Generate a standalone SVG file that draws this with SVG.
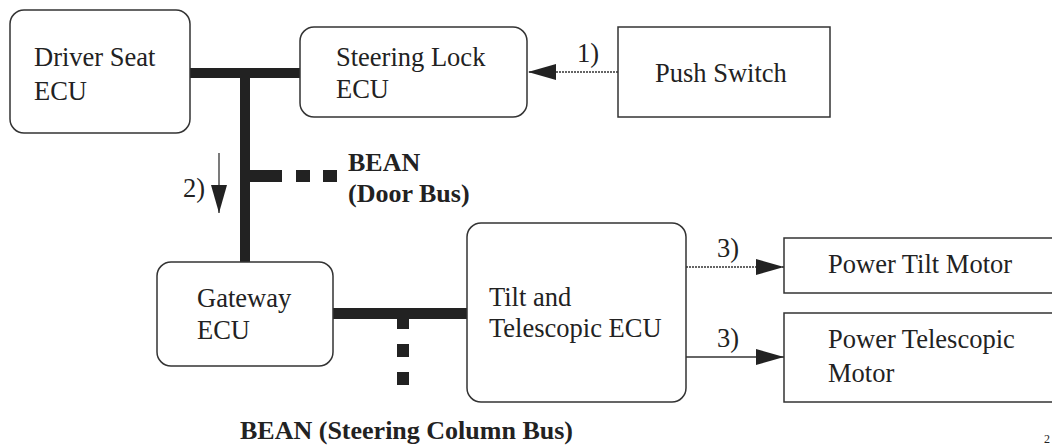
<svg xmlns="http://www.w3.org/2000/svg" width="1052" height="446" viewBox="0 0 1052 446">
<style>
.box{fill:#fff;stroke:#333;stroke-width:1.5}
.t{font-family:"Liberation Serif","Times New Roman",serif;font-size:26.5px;fill:#222}
.b{font-family:"Liberation Serif","Times New Roman",serif;font-size:26px;font-weight:bold;fill:#222}
.bus{fill:#222}
.ln{stroke:#333;stroke-width:1.3;fill:none}
.dot{stroke:#333;stroke-width:1.3;fill:none;stroke-dasharray:2 1}
</style>
<defs>
<marker id="ah" viewBox="0 0 28 16" refX="28" refY="8" markerWidth="28" markerHeight="16" markerUnits="userSpaceOnUse" orient="auto">
<path d="M0,0 L28,8 L0,16 Z" fill="#222"/>
</marker>
</defs>
<g id="connectors">
<rect class="bus" x="190" y="68" width="110" height="10"/>
<rect class="bus" x="240" y="68" width="10" height="194"/>
<rect class="bus" x="250" y="170" width="32" height="12"/>
<rect class="bus" x="296" y="170" width="14" height="12"/>
<rect class="bus" x="323" y="170" width="14" height="12"/>
<rect class="bus" x="333" y="308" width="134" height="11"/>
<rect class="bus" x="397" y="319" width="12" height="10"/>
<rect class="bus" x="397" y="344" width="12" height="13"/>
<rect class="bus" x="397" y="372" width="12" height="13"/>
<line class="dot" x1="618" y1="72" x2="528" y2="72" marker-end="url(#ah)"/>
<text class="t" x="577" y="62">1)</text>
<line class="ln" x1="219" y1="153" x2="219" y2="213" marker-end="url(#ah)"/>
<text class="t" x="183" y="197">2)</text>
<line class="dot" x1="686" y1="267" x2="784" y2="267" marker-end="url(#ah)"/>
<text class="t" x="717" y="257">3)</text>
<line class="ln" x1="686" y1="357" x2="784" y2="357" marker-end="url(#ah)"/>
<text class="t" x="717" y="347">3)</text>
<text class="b" x="348" y="171">BEAN</text>
<text class="b" x="348" y="202">(Door Bus)</text>
<text class="b" x="240" y="439">BEAN (Steering Column Bus)</text>
</g>
<g id="driver-seat-ecu">
<rect class="box" x="10" y="10" width="180" height="123" rx="14"/>
<text class="t" x="34" y="66">Driver Seat</text>
<text class="t" x="34" y="100">ECU</text>
</g>
<g id="steering-lock-ecu">
<rect class="box" x="300" y="27" width="227" height="90" rx="14"/>
<text class="t" x="336" y="66">Steering Lock</text>
<text class="t" x="336" y="98">ECU</text>
</g>
<g id="push-switch">
<rect class="box" x="618" y="27" width="212" height="90"/>
<text class="t" x="655" y="82">Push Switch</text>
</g>
<g id="gateway-ecu">
<rect class="box" x="157" y="262" width="176" height="104" rx="14"/>
<text class="t" x="197" y="307">Gateway</text>
<text class="t" x="197" y="339">ECU</text>
</g>
<g id="tilt-telescopic-ecu">
<rect class="box" x="467" y="223" width="219" height="179" rx="14"/>
<text class="t" x="489" y="306">Tilt and</text>
<text class="t" x="489" y="337">Telescopic ECU</text>
</g>
<g id="power-tilt-motor">
<rect class="box" x="784" y="238" width="300" height="55"/>
<text class="t" x="828" y="273">Power Tilt Motor</text>
</g>
<g id="power-telescopic-motor">
<rect class="box" x="784" y="313" width="300" height="89"/>
<text class="t" x="828" y="348">Power Telescopic</text>
<text class="t" x="828" y="382">Motor</text>
</g>
<text class="t" x="1044" y="443" style="font-size:12px">2</text>
</svg>
